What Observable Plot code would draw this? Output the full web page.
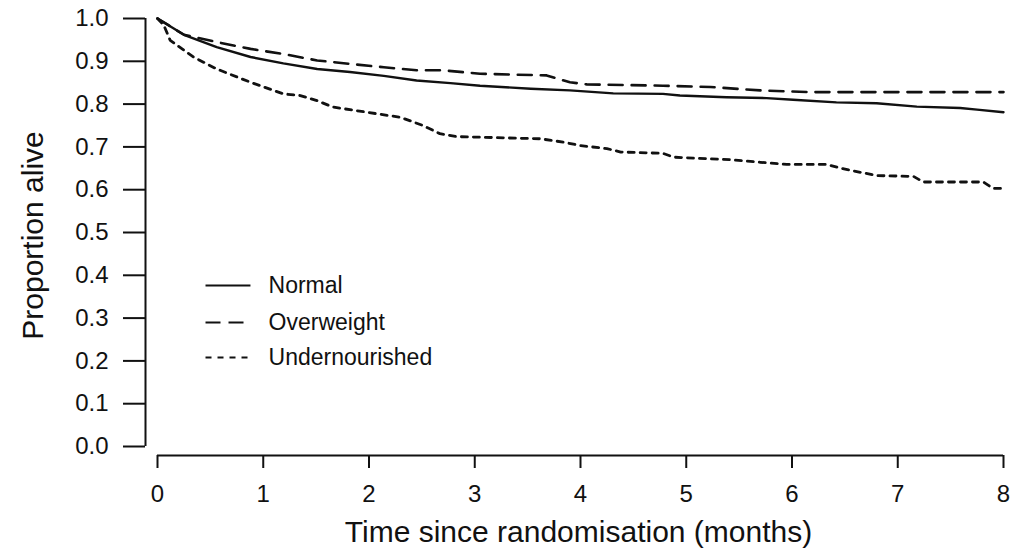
<!DOCTYPE html>
<html>
<head>
<meta charset="utf-8">
<script src="https://cdn.jsdelivr.net/npm/d3@7"></script>
<script src="https://cdn.jsdelivr.net/npm/@observablehq/plot@0.6"></script>
<style>
  html, body { margin: 0; padding: 0; background: #fff; }
  #chart svg { display: block; }
</style>
</head>
<body>
<div id="chart"></div>
<script>
// ---- data ----
const seriesNames = ["Normal", "Overweight", "Undernourished"];

const normalMonths = [0, 0.1, 0.25, 0.56, 0.88, 1.19, 1.51, 1.82, 2.14, 2.45, 2.77, 3.05, 3.53, 3.9, 4.31, 4.78, 4.94, 5.38, 5.76, 6.01, 6.42, 6.8, 7.18, 7.59, 7.75, 8.0];
const normalAlive  = [1.0, 0.985, 0.962, 0.933, 0.91, 0.895, 0.882, 0.875, 0.866, 0.855, 0.849, 0.843, 0.836, 0.832, 0.825, 0.824, 0.82, 0.816, 0.814, 0.81, 0.804, 0.802, 0.794, 0.791, 0.787, 0.781];

const overMonths = [0, 0.1, 0.25, 0.56, 0.88, 1.19, 1.51, 1.82, 2.14, 2.45, 2.7, 3.05, 3.68, 3.9, 4.06, 4.78, 5.23, 5.7, 6.17, 8.0];
const overAlive  = [1.0, 0.985, 0.962, 0.945, 0.929, 0.917, 0.902, 0.894, 0.886, 0.879, 0.879, 0.871, 0.867, 0.851, 0.846, 0.843, 0.84, 0.832, 0.828, 0.828];

const underMonths = [0, 0.06, 0.12, 0.34, 0.56, 0.88, 1.19, 1.35, 1.51, 1.66, 1.98, 2.3, 2.51, 2.67, 2.83, 3.62, 3.84, 4.0, 4.25, 4.38, 4.78, 4.88, 5.42, 5.7, 5.95, 6.33, 6.48, 6.8, 7.15, 7.24, 7.81, 7.9, 8.0];
const underAlive  = [1.0, 0.984, 0.949, 0.91, 0.882, 0.851, 0.824, 0.82, 0.808, 0.793, 0.781, 0.769, 0.75, 0.731, 0.724, 0.719, 0.711, 0.703, 0.696, 0.688, 0.685, 0.676, 0.67, 0.664, 0.659, 0.659, 0.649, 0.633, 0.631, 0.618, 0.618, 0.603, 0.603];

const xTicks = [0, 1, 2, 3, 4, 5, 6, 7, 8];
const yTicks = [0, 0.1, 0.2, 0.3, 0.4, 0.5, 0.6, 0.7, 0.8, 0.9, 1.0];
const xTitle = "Time since randomisation (months)";
const yTitle = "Proportion alive";

// ---- build tables ----
const toRows = (xs, ys) => xs.map((x, i) => ({month: x, alive: ys[i]}));
const normal = toRows(normalMonths, normalAlive);
const over = toRows(overMonths, overAlive);
const under = toRows(underMonths, underAlive);

const ink = "#111";
const styles = [
  {dash: null, legendDash: null},
  {dash: "14,9", legendDash: "15,8"},
  {dash: "6,6", legendDash: "6,6"}
];
// legend layout (data space inside frame)
const legendLineX = [0.454, 0.879];
const legendTextX = 1.05;
const legendY = [0.376, 0.290, 0.208];

const legendMarks = seriesNames.flatMap((name, i) => [
  Plot.link([name], {
    x1: () => legendLineX[0], x2: () => legendLineX[1],
    y1: () => legendY[i], y2: () => legendY[i],
    stroke: ink, strokeWidth: 2, strokeDasharray: styles[i].legendDash
  }),
  Plot.text([name], {
    x: () => legendTextX, y: () => legendY[i], text: d => d,
    textAnchor: "start", fontSize: 23, fill: ink
  })
]);

const chart = Plot.plot({
  width: 1010,
  height: 550,
  marginLeft: 157,
  marginRight: 7,
  marginTop: 18,
  marginBottom: 104,
  style: {fontFamily: "'Liberation Sans', Arial, Helvetica, sans-serif", fontSize: "24px", background: "#fff", color: ink},
  x: {domain: [0, 8]},
  y: {domain: [0, 1]},
  marks: [
    // axis lines (offset from the frame, R style)
    Plot.ruleX([0], {y1: 0, y2: 1, dx: -12, stroke: ink, strokeWidth: 2}),
    Plot.ruleY([0], {x1: 0, x2: 8, dy: 9, stroke: ink, strokeWidth: 2}),
    Plot.axisY(yTicks, {tickSize: 22, dx: -12, tickPadding: 15, tickFormat: d3.format(".1f"), fontSize: 24, label: null, strokeWidth: 2, stroke: ink, fill: ink}),
    Plot.axisX(xTicks, {tickSize: 13, dy: 9, tickPadding: 16, tickFormat: d3.format("d"), fontSize: 24, label: null, strokeWidth: 2, stroke: ink, fill: ink}),
    Plot.text([yTitle], {frameAnchor: "left", text: d => d, rotate: -90, textAnchor: "middle", lineAnchor: "middle", dx: -124, dy: 3, fontSize: 30, fill: ink}),
    Plot.text([xTitle], {frameAnchor: "bottom", text: d => d, textAnchor: "middle", lineAnchor: "middle", dy: 86, dx: -2, fontSize: 30, fill: ink}),
    // survival curves
    Plot.line(normal, {x: "month", y: "alive", stroke: ink, strokeWidth: 2.4}),
    Plot.line(over, {x: "month", y: "alive", stroke: ink, strokeWidth: 2.6, strokeDasharray: styles[1].dash}),
    Plot.line(under, {x: "month", y: "alive", stroke: ink, strokeWidth: 2.8, strokeDasharray: styles[2].dash}),
    ...legendMarks
  ]
});
document.getElementById("chart").appendChild(chart);
</script>
</body>
</html>
